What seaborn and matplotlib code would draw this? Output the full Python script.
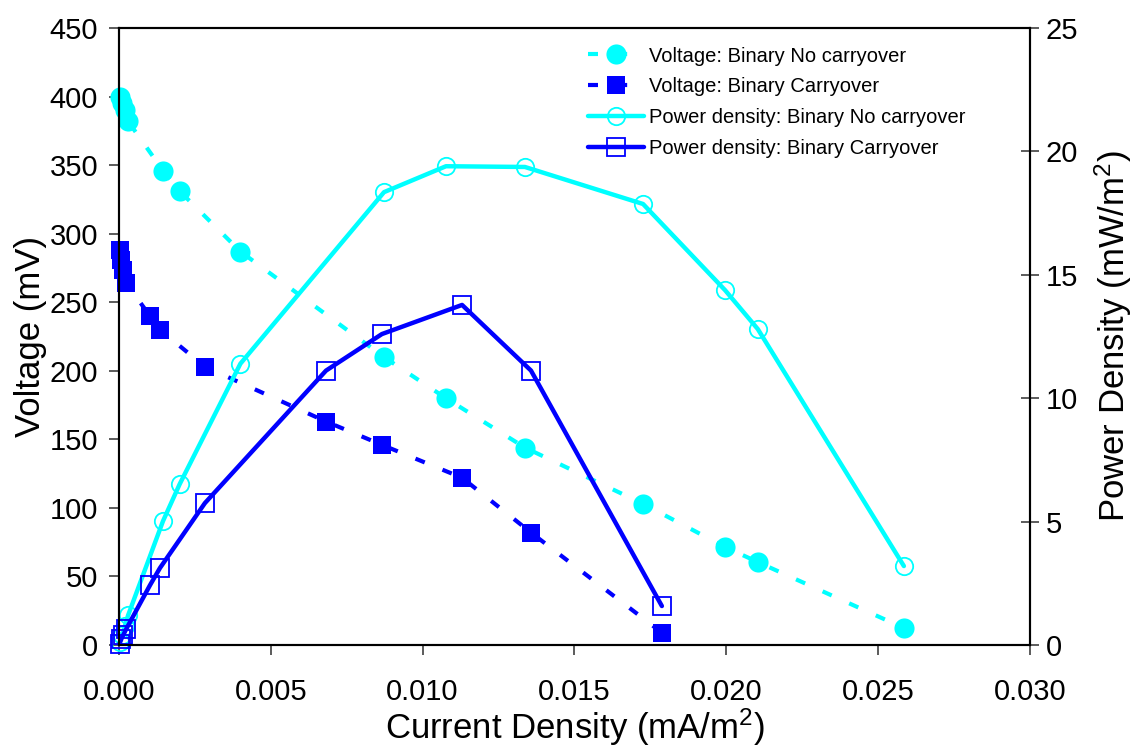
import matplotlib
matplotlib.use("Agg")
import matplotlib.pyplot as plt
import seaborn as sns
import pandas as pd

# Current density (mA/m^2) for each run
current_nc = [0.00003, 0.0001, 0.0002, 0.0003, 0.00145, 0.0020, 0.0040, 0.00873,
              0.01077, 0.01337, 0.01726, 0.01996, 0.02104, 0.02585]
current_c = [0.00002, 0.00008, 0.00014, 0.00024, 0.00102, 0.00135, 0.00283, 0.00682,
             0.00866, 0.0113, 0.01357, 0.01788]

# Cell voltage (mV)
voltage_nc = [400, 395, 390, 382, 346, 331, 287, 210, 180, 144, 103, 71.5, 60.5, 12.4]
voltage_c = [288, 281, 273.5, 264, 240, 230, 203, 163, 146, 122, 82, 9]

# Power density (mW/m^2)
power_nc = [0.12, 0.4, 0.78, 1.2, 5.02, 6.52, 11.4, 18.35, 19.4, 19.37, 17.87, 14.38, 12.8, 3.2]
power_c = [0.06, 0.25, 0.4, 0.65, 2.42, 3.12, 5.75, 11.12, 12.6, 13.78, 11.12, 1.58]

labels = ["Voltage: Binary No carryover", "Voltage: Binary Carryover",
          "Power density: Binary No carryover", "Power density: Binary Carryover"]

x_ticks = [0.000, 0.005, 0.010, 0.015, 0.020, 0.025, 0.030]
v_ticks = list(range(0, 451, 50))
p_ticks = list(range(0, 26, 5))

CYAN = "#00FFFF"
BLUE = "#0000FF"

sns.set_style("white")
plt.rcParams["font.family"] = ["Liberation Sans", "DejaVu Sans"]
plt.rcParams["text.color"] = "black"
plt.rcParams["axes.labelcolor"] = "black"
plt.rcParams["mathtext.fontset"] = "custom"
plt.rcParams["mathtext.rm"] = "Liberation Sans"
plt.rcParams["mathtext.it"] = "Liberation Sans:italic"
plt.rcParams["mathtext.bf"] = "Liberation Sans:bold"

df_nc = pd.DataFrame({"current": current_nc, "voltage": voltage_nc, "power": power_nc})
df_c = pd.DataFrame({"current": current_c, "voltage": voltage_c, "power": power_c})

fig = plt.figure(figsize=(11.35, 7.49), dpi=100)
ax = fig.add_axes([0.1048, 0.1388, 0.8026, 0.8238])
ax2 = ax.twinx()

dash = (0, (2.4, 4.6))
common = dict(sort=False, estimator=None, clip_on=False)

sns.lineplot(data=df_nc, x="current", y="voltage", ax=ax, color=CYAN, linewidth=3,
             linestyle=dash, marker="o", markersize=14.5, markerfacecolor=CYAN,
             markeredgecolor=CYAN, markeredgewidth=0, label=labels[0], **common)
sns.lineplot(data=df_c, x="current", y="voltage", ax=ax, color=BLUE, linewidth=3,
             linestyle=dash, marker="s", markersize=13.5, markerfacecolor=BLUE,
             markeredgecolor=BLUE, markeredgewidth=0, label=labels[1], **common)

sns.lineplot(data=df_nc, x="current", y="power", ax=ax2, color=CYAN, linewidth=3.2,
             linestyle="-", marker="o", markersize=12.5, markerfacecolor="none",
             markeredgecolor=CYAN, markeredgewidth=1.3, label=labels[2], **common)
sns.lineplot(data=df_c, x="current", y="power", ax=ax2, color=BLUE, linewidth=3.2,
             linestyle="-", marker="s", markersize=12.5, markerfacecolor="none",
             markeredgecolor=BLUE, markeredgewidth=1.3, label=labels[3], **common)

ax.set_xlim(0, 0.030)
ax.set_ylim(0, 450)
ax2.set_ylim(0, 25)
ax.set_xticks(x_ticks)
ax.set_xticklabels([f"{t:.3f}" for t in x_ticks])
ax.set_yticks(v_ticks)
ax2.set_yticks(p_ticks)

for a in (ax, ax2):
    for s in a.spines.values():
        s.set_color("black")
        s.set_linewidth(1.5)
        s.set_visible(True)

ax.tick_params(axis="x", direction="out", length=7, width=1.2, color="#404040",
               labelcolor="black", labelsize=21, pad=17, bottom=True)
ax.tick_params(axis="y", direction="out", length=7, width=1.2, color="#404040",
               labelcolor="black", labelsize=21, pad=8, left=True)
ax2.tick_params(axis="y", direction="inout", length=13, width=1.2, color="#404040",
                labelcolor="black", labelsize=21, pad=5, right=True)

ax.set_xlabel("Current Density (mA/m$^2$)", fontsize=25, labelpad=0)
ax.set_ylabel("Voltage (mV)", fontsize=25, labelpad=2)
ax2.set_ylabel("Power Density (mW/m$^2$)", fontsize=25, labelpad=10)

h1, l1 = ax.get_legend_handles_labels()
h2, l2 = ax2.get_legend_handles_labels()
if ax.get_legend() is not None:
    ax.get_legend().remove()
ax2.legend(h1 + h2, l1 + l2, loc="upper left", bbox_to_anchor=(0.515, 0.97),
           frameon=False, fontsize=14.5, handlelength=2.8, handletextpad=0.2,
           labelspacing=0.58, borderpad=0, borderaxespad=0)

fig.savefig("out.png", dpi=100)
